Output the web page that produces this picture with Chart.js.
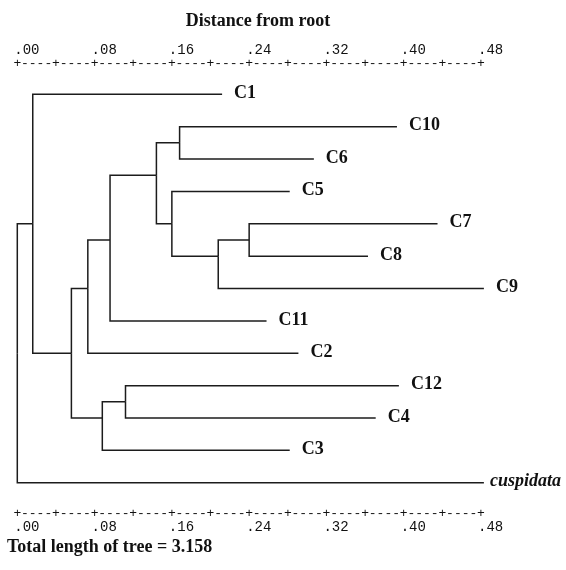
<!DOCTYPE html>
<html>
<head>
<meta charset="utf-8">
<script src="https://cdn.jsdelivr.net/npm/chart.js@4.4.1/dist/chart.umd.min.js"></script>
<style>
  html, body { margin: 0; padding: 0; background: #fff; }
  #wrap { width: 566px; height: 570px; }
</style>
</head>
<body>
<div id="wrap"><canvas id="tree"></canvas></div>
<script>
  // leaves, top to bottom, with distance from root of each tip
  const leafNames = ['C1', 'C10', 'C6', 'C5', 'C7', 'C8', 'C9', 'C11', 'C2', 'C12', 'C4', 'C3', 'cuspidata'];
  const leafDist = [0.212, 0.393, 0.307, 0.282, 0.435, 0.363, 0.483, 0.258, 0.291, 0.395, 0.371, 0.282, 0.483];

  // internal nodes: distance from root and their two children
  const nodeIds = ['root', 'n1', 'n2', 'n3', 'n4', 'n5', 'n6', 'n7', 'n8', 'n9', 'n10', 'n11'];
  const nodeDist = [0, 0.016, 0.056, 0.073, 0.096, 0.144, 0.168, 0.160, 0.208, 0.240, 0.088, 0.112];
  const nodeKids = [
    ['n1', 'cuspidata'],
    ['C1', 'n2'],
    ['n3', 'n10'],
    ['n4', 'C2'],
    ['n5', 'C11'],
    ['n6', 'n7'],
    ['C10', 'C6'],
    ['C5', 'n8'],
    ['n9', 'C9'],
    ['C7', 'C8'],
    ['n11', 'C3'],
    ['C12', 'C4']
  ];

  const axisMax = 0.48;
  const labelStep = 0.08;
  const ruleStep = 0.02;
  const titleText = 'Distance from root';
  const footText = 'Total length of tree = 3.158';

  // positions of every node (x = distance, y = row)
  let dist = {};
  let half = {};
  leafNames.forEach((n, i) => { dist[n] = leafDist[i]; half[n] = 2 * i; });
  nodeIds.forEach((n, i) => { dist[n] = nodeDist[i]; });
  function rowOf(id) {
    if (half[id] === undefined) {
      const kids = nodeKids[nodeIds.indexOf(id)];
      half[id] = Math.floor((rowOf(kids[0]) * 2 + rowOf(kids[kids.length - 1]) * 2) / 2);
    }
    return half[id] / 2;
  }

  let segments = [];
  nodeIds.forEach((p, i) => {
    nodeKids[i].forEach(c => {
      segments.push({
        data: [
          { x: dist[p], y: rowOf(p) },
          { x: dist[p], y: rowOf(c) },
          { x: dist[c], y: rowOf(c) }
        ],
        borderColor: '#1c1c1c',
        borderWidth: 1.5,
        pointRadius: 0,
        tension: 0,
        fill: false,
        clip: false
      });
    });
  });

  const serif = '"Liberation Serif", "Times New Roman", serif';
  const mono = '"Liberation Mono", "Courier New", monospace';

  function numberAxis(pos, pad) {
    return {
      type: 'linear', position: pos, weight: 1, min: 0, max: axisMax,
      grid: { display: false, drawTicks: false }, border: { display: false },
      ticks: {
        stepSize: labelStep, align: 'start', labelOffset: -3, padding: pad,
        autoSkip: false, maxRotation: 0, minRotation: 0, color: '#111',
        font: { family: mono, size: 14, lineHeight: 1 },
        callback: v => v.toFixed(2).replace(/^0/, '')
      }
    };
  }
  function ruleAxis(pos, pad) {
    return {
      type: 'linear', position: pos, weight: 0, min: 0, max: axisMax,
      grid: { display: false, drawTicks: false }, border: { display: false },
      ticks: {
        stepSize: ruleStep, padding: pad, autoSkip: false, maxRotation: 0, minRotation: 0,
        color: '#111', font: { family: mono, size: 13, lineHeight: 1 },
        callback: (v, i) => (i % 2 ? '----' : '+')
      }
    };
  }
  function spacer(pos, w) {
    return {
      position: pos, display: true,
      grid: { display: false, drawTicks: false }, border: { display: false },
      ticks: { display: false },
      afterFit: s => { s.width = w; }
    };
  }

  const leafLabels = {
    id: 'leafLabels',
    afterDatasetsDraw(chart) {
      const ctx = chart.ctx;
      const xs = chart.scales.x;
      const ys = chart.scales.y;
      ctx.save();
      ctx.fillStyle = '#111';
      ctx.textBaseline = 'middle';
      leafNames.forEach((name, i) => {
        const it = name === 'cuspidata';
        ctx.font = (it ? 'italic ' : '') + 'bold 18px ' + serif;
        ctx.fillText(name, xs.getPixelForValue(leafDist[i]) + (it ? 6 : 12), ys.getPixelForValue(rowOf(name)) - 1);
      });
      ctx.restore();
    }
  };

  new Chart(document.getElementById('tree'), {
    type: 'line',
    data: { datasets: segments },
    options: {
      responsive: true,
      maintainAspectRatio: false,
      animation: false,
      events: [],
      layout: { padding: { left: 7, right: 57, top: 0, bottom: 0 } },
      scales: {
        x: numberAxis('top', 0),
        xRuleTop: ruleAxis('top', 0),
        xBottom: numberAxis('bottom', 1),
        xRuleBottom: ruleAxis('bottom', 0),
        y: { type: 'linear', display: false, reverse: true, min: -0.735, max: 12.74 },
        padL: spacer('left', 10.3),
        padR: spacer('right', 28)
      },
      plugins: {
        legend: { display: false },
        tooltip: { enabled: false },
        title: {
          display: true, text: titleText, color: '#111',
          font: { family: serif, size: 18, weight: 'bold', lineHeight: 1.2 },
          padding: { top: 11, bottom: 10.9 }
        },
        subtitle: {
          display: true, text: footText, position: 'bottom', align: 'start', color: '#111',
          font: { family: serif, size: 18, weight: 'bold', lineHeight: 1.2 },
          padding: { top: 1, bottom: 11.7 }
        }
      }
    },
    plugins: [leafLabels]
  });
</script>
</body>
</html>
